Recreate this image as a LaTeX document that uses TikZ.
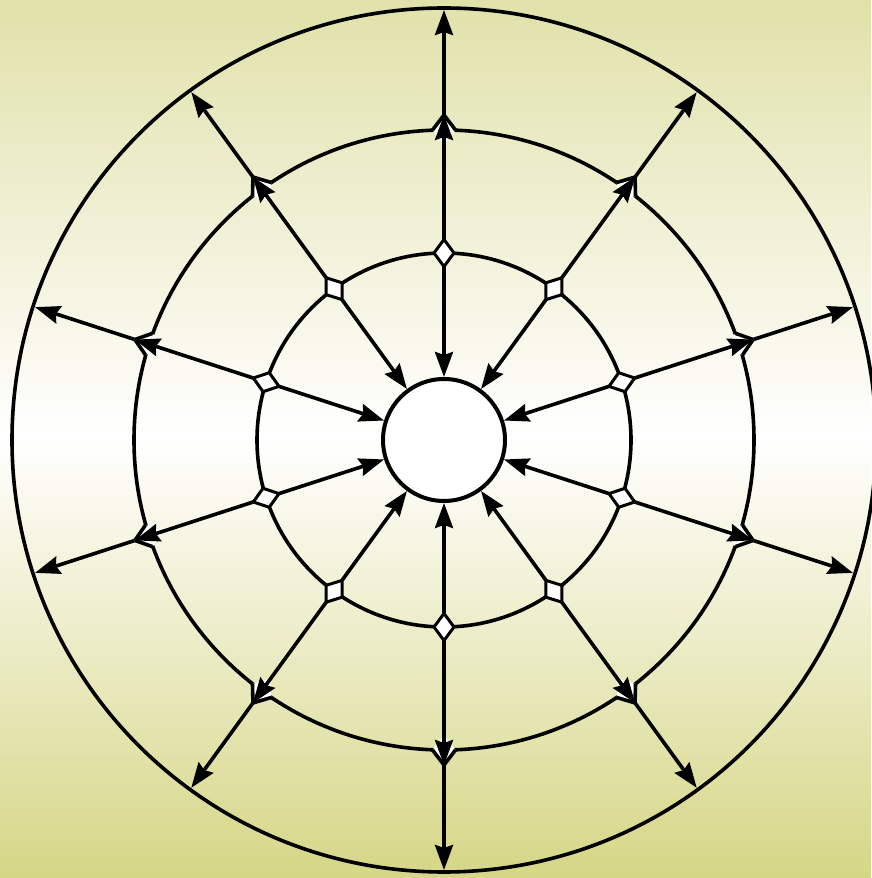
\documentclass[tikz,border=0pt]{standalone}
\usetikzlibrary{arrows.meta,shapes.geometric}
\definecolor{topc}{RGB}{225,225,170}
\definecolor{botc}{RGB}{214,214,134}
\begin{document}
\begin{tikzpicture}[x=1pt,y=1pt,
  ln/.style={line width=3.6pt},
  arr/.style={line width=3.6pt,-{Stealth[length=25pt,width=18pt,inset=3pt]}},
  jin/.style={diamond,draw,fill=white,line width=3pt,inner sep=0pt,minimum width=27pt,minimum height=20pt,outer sep=0pt},
  jmid/.style={diamond,fill=white,inner sep=0pt,minimum width=30pt,minimum height=23pt,outer sep=0pt},
  hubst/.style={circle,draw,fill=white,line width=4pt,minimum size=122pt,inner sep=0pt}]
\useasboundingbox (0,0) rectangle (871,878);
\shade[top color=topc,bottom color=white] (0,439) rectangle (871,878);
\shade[top color=white,bottom color=botc] (0,0) rectangle (871,439.5);
\begin{scope}[shift={(444,438)}]
  \draw[ln] (0,0) circle (432pt);
  \draw[ln] (0,0) circle (310pt);
  \draw[ln] (0,0) circle (187pt);
  \node[hubst] (hub) at (0,0) {};
  \foreach \k in {0,...,9}{
    \pgfmathsetmacro\a{90+36*\k}
    \node[jin,rotate=\a] (i\k) at (\a:187pt) {};
    \node[jmid,rotate=\a] (m\k) at (\a:310pt) {};
    \draw[ln,line join=miter] (m\k.north) -- (m\k.east) -- (m\k.south);
    \coordinate (o\k) at (\a:430pt);
    \draw[arr] (i\k) -- (hub);
    \draw[arr] (i\k) -- (m\k.east);
    \draw[arr] (m\k.east) -- (o\k);
  }
\end{scope}
\end{tikzpicture}
\end{document}
